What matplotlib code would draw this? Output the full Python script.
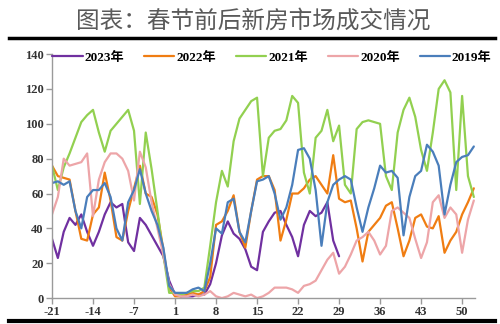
import matplotlib
matplotlib.use("Agg")
import matplotlib.pyplot as plt
from matplotlib.lines import Line2D

# week axis: -21..-1 before the holiday, 1..52 after (no week 0)
weeks = list(range(-21, 0)) + list(range(1, 53))

# weekly transactions per series (thousand sqm index)
y2023 = [34, 23, 38, 46, 42, 48, 38, 30, 38, 48, 55, 52, 54, 32, 27, 46, 42, 36, 30, 24, 10,
         2, 1, 1, 1, 2, 2, 8, 20, 36, 44, 37, 34, 28, 18, 16, 38, 44, 49, 50, 42, 35, 24, 42,
         50, 47, 49, 55, 33, 24]
y2022 = [76, 70, 69, 68, 50, 34, 33, 48, 52, 72, 56, 35, 33, 50, 63, 76, 60, 58, 48, 28, 6,
         1, 1, 2, 3, 2, 4, 12, 42, 44, 50, 59, 38, 29, 50, 68, 70, 70, 62, 33, 45, 60, 60, 63,
         68, 70, 65, 60, 82, 57, 55, 56, 40, 21, 38, 42, 46, 53, 55, 40, 24, 33, 46, 48, 41,
         40, 47, 26, 33, 38, 48, 55, 63]
y2021 = [76, 62, 75, 83, 92, 101, 105, 108, 95, 84, 96, 100, 104, 108, 96, 54, 95, 74, 50, 25, 3,
         3, 2, 3, 4, 4, 6, 30, 55, 73, 64, 90, 103, 108, 113, 115, 70, 92, 96, 97, 102, 116,
         112, 72, 60, 92, 96, 108, 90, 99, 65, 60, 97, 101, 102, 101, 100, 70, 62, 95, 108,
         115, 104, 85, 73, 95, 120, 125, 118, 62, 116, 70, 58]
y2020 = [48, 58, 80, 76, 77, 78, 83, 47, 68, 78, 83, 83, 80, 73, 56, 84, 75, 55, 40, 25, 8,
         2, 1, 1, 2, 1, 2, 4, 1, 0, 1, 3, 2, 1, 2, 0, 1, 3, 6, 6, 6, 5, 3, 7, 8, 10, 16, 22,
         26, 14, 18, 25, 33, 35, 38, 33, 25, 30, 50, 52, 49, 46, 34, 23, 32, 55, 59, 46, 52,
         48, 26, 45, 56]
y2019 = [66, 67, 65, 67, 50, 40, 58, 62, 62, 66, 58, 40, 33, 55, 62, 74, 60, 50, 42, 29, 7,
         3, 3, 3, 5, 6, 4, 20, 40, 37, 55, 57, 38, 32, 50, 67, 68, 70, 60, 45, 52, 65, 85, 86,
         80, 62, 30, 55, 65, 68, 70, 68, 52, 38, 52, 63, 76, 72, 73, 69, 36, 58, 70, 73, 88,
         84, 76, 48, 65, 78, 81, 82, 87]

series = [
    ("2023年", y2023, "#7030A0"),
    ("2022年", y2022, "#F07D12"),
    ("2021年", y2021, "#92D050"),
    ("2020年", y2020, "#EDA5A8"),
    ("2019年", y2019, "#4A7EBB"),
]

tick_labels = [-21, -14, -7, 1, 8, 15, 22, 29, 36, 43, 50]
tick_pos = [weeks.index(w) for w in tick_labels]

serif = ["Liberation Serif", "Noto Sans CJK SC"]

fig = plt.figure(figsize=(5, 3.24), dpi=100)
ax = fig.add_axes([0.104, 0.080, 0.846, 0.753])

for name, vals, color in series:
    ax.plot(range(len(vals)), vals, color=color, lw=1.6, label=name,
            solid_joinstyle="round", solid_capstyle="round")

ax.set_xlim(0, 72.2)
ax.set_ylim(0, 140)
ax.set_yticks(range(0, 141, 20))
ax.set_xticks(tick_pos)
ax.set_xticklabels([str(t) for t in tick_labels])
for lab in ax.get_xticklabels() + ax.get_yticklabels():
    lab.set_family(serif)
    lab.set_fontsize(9)
    lab.set_fontweight("bold")
    lab.set_color("#333333")

for side in ("top", "right"):
    ax.spines[side].set_visible(False)
for side in ("left", "bottom"):
    ax.spines[side].set_color("#9a9a9a")
    ax.spines[side].set_linewidth(1.0)
ax.tick_params(axis="both", direction="out", length=4, width=1.0, color="#9a9a9a", pad=2)

leg = ax.legend(loc="center", bbox_to_anchor=(0.52, 0.985), ncol=5, frameon=False,
                prop={"family": serif, "size": 9.5, "weight": "bold"},
                handlelength=2.3, handletextpad=0.15, columnspacing=1.5, borderaxespad=0)

fig.text(0.507, 0.935, "图表：春节前后新房市场成交情况", ha="center", va="center",
         fontsize=17, color="#5a5a5a", family=["Noto Sans CJK SC", "DejaVu Sans"],
         fontweight="light")

# heavy rules above and below the chart
fig.add_artist(Line2D([0.018, 0.99], [0.882, 0.882], color="black", lw=2.5))
fig.add_artist(Line2D([0.018, 0.99], [0.008, 0.008], color="black", lw=3))

fig.savefig("out.png", dpi=100)
